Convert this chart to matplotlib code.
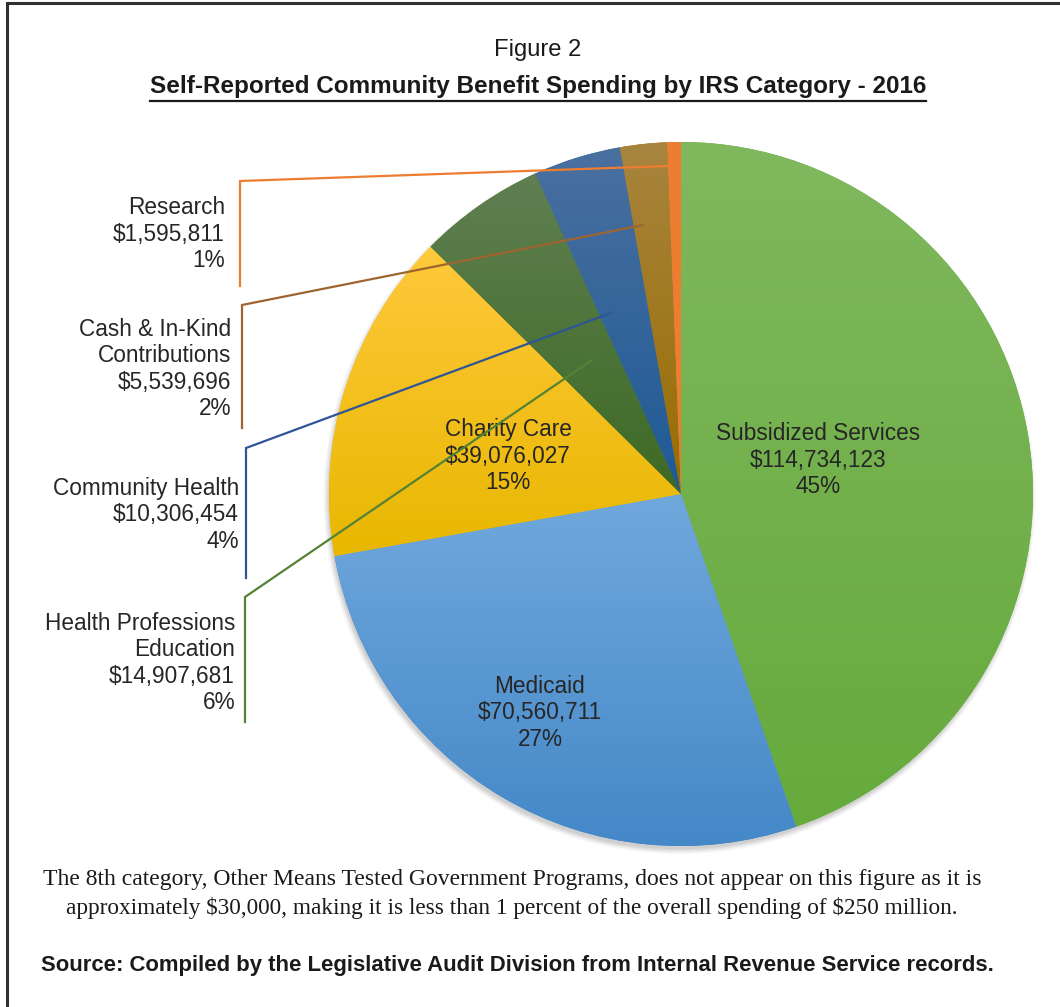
import numpy as np
import matplotlib
matplotlib.use("Agg")
import matplotlib.pyplot as plt
from matplotlib.colors import LinearSegmentedColormap
from matplotlib.patches import Circle

plt.rcParams["text.parse_math"] = False

# Community benefit spending by IRS category, 2016
categories = ["Subsidized Services", "Medicaid", "Charity Care",
              "Health Professions\nEducation", "Community Health",
              "Cash & In-Kind\nContributions", "Research"]
spending = [114734123, 70560711, 39076027, 14907681, 10306454, 5539696, 1595811]
percent_labels = ["45%", "27%", "15%", "6%", "4%", "2%", "1%"]

# (top, bottom) gradient colours for each slice
top_colors = ["#80b85e", "#70a8dc", "#ffc93c", "#607f52", "#4a70a0", "#a8853f", "#ed7d31"]
bottom_colors = ["#66aa3c", "#4488c8", "#e8b700", "#3d6a24", "#1e5a95", "#996c00", "#ed7d31"]
leader_colors = ["#70ad47", "#5b9bd5", "#ffc000", "#548235", "#2f5597", "#9e6530", "#ed7d31"]

W, H = 1060, 1007
fig = plt.figure(figsize=(W / 100, H / 100), dpi=100)
ax = fig.add_axes([0, 0, 1, 1])

def Y(py):
    return H - py

cx, cy, R = 681, Y(494), 352

# soft drop shadow under the pie, offset down and to the left
for i, a in enumerate([0.04, 0.05, 0.06, 0.07, 0.08]):
    ax.add_patch(Circle((cx - 1.5, cy - 4), R + 4 - 1.2 * i, color="#505050",
                        alpha=a, lw=0, zorder=0))

wedges, _ = ax.pie(spending, startangle=90, counterclock=False, center=(cx, cy),
                   radius=R, colors=bottom_colors, frame=True,
                   wedgeprops=dict(linewidth=0))

# vertical gradient inside each slice
for w, ct, cb in zip(wedges, top_colors, bottom_colors):
    verts = w.get_patch_transform().transform(w.get_path().vertices)
    x0, y0 = verts.min(axis=0)
    x1, y1 = verts.max(axis=0)
    cmap = LinearSegmentedColormap.from_list("g", [cb, ct])
    grad = np.linspace(0, 1, 256).reshape(-1, 1)
    im = ax.imshow(grad, cmap=cmap, origin="lower", extent=[x0, x1, y0, y1],
                   aspect="auto", zorder=2, interpolation="bilinear")
    im.set_clip_path(w)

ax.set_xlim(0, W)
ax.set_ylim(0, H)
ax.set_aspect("auto")
ax.axis("off")

txt_color = "#262626"
label_fs = 16.3
sans = ["Liberation Sans", "DejaVu Sans"]

def value_label(i):
    return f"${spending[i]:,}\n{percent_labels[i]}"

# labels inside the three large slices
inside = {0: (818, 460), 1: (540, 713), 2: (508, 456)}
for i, (px, py) in inside.items():
    ax.text(px, Y(py), categories[i] + "\n" + value_label(i), ha="center", va="center",
            fontsize=label_fs, family=sans, color=txt_color, linespacing=1.18, zorder=5)

# outside labels with elbow leader lines
outside = {
    6: dict(text=(225, 234), start=(668, 166), elbow=(240, 181), end=286),
    5: dict(text=(231, 369), start=(643, 225), elbow=(242, 305), end=428),
    4: dict(text=(239, 515), start=(611, 313), elbow=(246, 448), end=578),
    3: dict(text=(235, 663), start=(592, 360), elbow=(245, 597), end=722),
}
for i, d in outside.items():
    tx, ty = d["text"]
    ax.text(tx, Y(ty), categories[i] + "\n" + value_label(i), ha="right", va="center",
            fontsize=label_fs, family=sans, color=txt_color, linespacing=1.18,
            multialignment="right", zorder=5)
    sx, sy = d["start"]
    ex, ey = d["elbow"]
    ax.plot([sx, ex, ex], [Y(sy), Y(ey), Y(d["end"])], color=leader_colors[i],
            lw=1.6, zorder=6, solid_joinstyle="miter")

# frame around the figure
ax.plot([7, 7, W + 5], [-5, Y(3), Y(3)], color="#303030", lw=2.2, zorder=7,
        solid_joinstyle="miter")

renderer = fig.canvas.get_renderer()

def fit(t, width):
    bb = t.get_window_extent(renderer)
    t.set_fontsize(t.get_fontsize() * width / bb.width)
    return t.get_window_extent(renderer)

narrow = ["Liberation Sans Narrow", "Liberation Sans", "DejaVu Sans"]
serif = ["Liberation Serif", "DejaVu Serif"]

t1 = ax.text(538, Y(50), "Figure 2", ha="center", va="center", family=narrow,
             fontsize=20, color="#1a1a1a")
fit(t1, 87)
t2 = ax.text(538, Y(87), "Self-Reported Community Benefit Spending by IRS Category - 2016",
             ha="center", va="center", family=narrow, fontsize=20, weight="bold",
             color="#1a1a1a")
bb = fit(t2, 773)
ax.plot([bb.x0, bb.x1], [Y(101), Y(101)], color="#1a1a1a", lw=1.6)

n1 = ax.text(512, Y(880), "The 8th category, Other Means Tested Government Programs, does not "
             "appear on this figure as it is", ha="center", va="center", family=serif,
             fontsize=15, color="#1a1a1a")
fit(n1, 945)
n2 = ax.text(512, Y(908), "approximately $30,000, making it is less than 1 percent of the overall "
             "spending of $250 million.", ha="center", va="center", family=serif,
             fontsize=15, color="#1a1a1a")
fit(n2, 895)
s1 = ax.text(517, Y(965), "Source: Compiled by the Legislative Audit Division from Internal "
             "Revenue Service records.", ha="center", va="center", family=narrow,
             fontsize=18, weight="bold", color="#1a1a1a")
fit(s1, 955)

fig.savefig("out.png", dpi=100)
